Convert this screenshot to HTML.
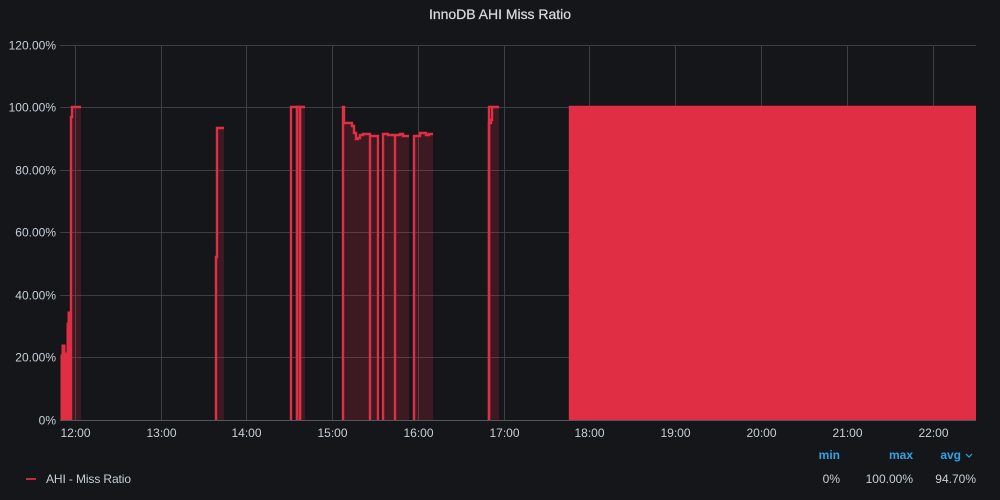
<!DOCTYPE html>
<html lang="en">
<head>
<meta charset="utf-8">
<title>InnoDB AHI Miss Ratio</title>
<style>
html,body{margin:0;padding:0;background:#141619;width:1000px;height:500px;overflow:hidden}
svg{display:block}
text{font-family:"Liberation Sans",sans-serif;font-size:12px;fill:#c7d0d9}
</style>
</head>
<body>
<svg id="chart" xmlns="http://www.w3.org/2000/svg" width="1000" height="500" viewBox="0 0 1000 500">
<rect x="0" y="0" width="1000" height="500" fill="#141619"/>
<text x="429" y="19" textLength="142" lengthAdjust="spacing" style="font-size:14px;fill:#d8d9da;stroke:#d8d9da;stroke-width:0.25">InnoDB AHI Miss Ratio</text>
<g id="grid"></g>
<g id="series"></g>
<g id="yaxis"></g>
<g id="xaxis"></g>
<g>
<rect x="26" y="478" width="10" height="2" fill="#c4283c"/>
<text x="46" y="483" textLength="85" lengthAdjust="spacing">AHI - Miss Ratio</text>
<text x="840" y="459" text-anchor="end" style="fill:#33a2e5;font-weight:bold">min</text>
<text x="913" y="459" text-anchor="end" style="fill:#33a2e5;font-weight:bold">max</text>
<text x="961" y="459" text-anchor="end" style="fill:#33a2e5;font-weight:bold">avg</text>
<path d="M966 454l3 3l3-3" fill="none" stroke="#33a2e5" stroke-width="1.2"/>
<text x="840" y="483" text-anchor="end">0%</text>
<text x="913" y="483" text-anchor="end">100.00%</text>
<text x="976" y="483" text-anchor="end">94.70%</text>
</g>
</svg>
<script>
// Tick values and labels
const yTickValues = [0, 20, 40, 60, 80, 100, 120];
const yTickLabels = ["0%", "20.00%", "40.00%", "60.00%", "80.00%", "100.00%", "120.00%"];
const xTickMinutes = [0, 60, 120, 180, 240, 300, 360, 420, 480, 540, 600];
const xTickLabels = ["12:00", "13:00", "14:00", "15:00", "16:00", "17:00", "18:00", "19:00", "20:00", "21:00", "22:00"];

// Series runs: minutes after 12:00 and miss ratio percent
const denseStartTimes = [-9.8, -9.0, -7.1, -6.0, -4.9, -3.2];
const denseStartValues = [20.8, 24, 21.5, 31, 34.5, 21];
const firstRunTimes = [-2.7, -2.1, 4];
const firstRunValues = [97, 100, 100];
const riseTimes = [98.2, 98.8, 104];
const riseValues = [52, 93.3, 93.3];
const boxATimes = [150.9, 154.9];
const boxAValues = [100, 0];
const boxBTimes = [155.1, 157];
const boxBValues = [100, 0];
const boxCTimes = [157.2, 160.7];
const boxCValues = [100, 100];
const plateauATimes = [187.6, 188.3, 193.6, 195, 196.4, 197.8, 199.1, 201, 206.1, 206.4, 211.8];
const plateauAValues = [100, 95, 94, 91.8, 89.9, 90.2, 91.2, 91.5, 0, 91, 0];
const plateauBTimes = [215.2, 219, 223.6, 223.8, 227, 229.2, 233.4];
const plateauBValues = [91.5, 91.3, 0, 91.2, 91.5, 91, 91];
const plateauCTimes = [236.6, 241.1, 245, 247.5, 250.2];
const plateauCValues = [91, 91.8, 91.2, 91.4, 91.4];
const capTimes = [289.4, 291.6];
const capValues = [100, 100];
const lateRunTimes = [289.7, 290.8, 291.6, 296.5];
const lateRunValues = [95, 96, 100, 100];
const blockTimes = [346.1, 630.1];
const blockValues = [100, 100];

const runs = [
  {t: denseStartTimes, v: denseStartValues, mode: "dense"},
  {t: firstRunTimes, v: firstRunValues, mode: "area"},
  {t: riseTimes, v: riseValues, mode: "area"},
  {t: boxATimes, v: boxAValues, mode: "line"},
  {t: boxBTimes, v: boxBValues, mode: "line"},
  {t: boxCTimes, v: boxCValues, mode: "area"},
  {t: plateauATimes, v: plateauAValues, mode: "area"},
  {t: plateauBTimes, v: plateauBValues, mode: "area"},
  {t: plateauCTimes, v: plateauCValues, mode: "area"},
  {t: capTimes, v: capValues, mode: "line"},
  {t: lateRunTimes, v: lateRunValues, mode: "area"},
  {t: blockTimes, v: blockValues, mode: "block"}
];

const NS = "http://www.w3.org/2000/svg";
const plot = {left: 60, right: 976, top: 45, bottom: 420};
function xScale(min) { return 75.3 + min * 85.77 / 60; }
function yScale(val) { return plot.bottom - val * 3.126; }
function snapX(min) { return Math.round(xScale(min)); }
function snapY(val) { return Math.round(yScale(val)); }
function make(tag, attrs, parent) {
  const el = document.createElementNS(NS, tag);
  for (const k in attrs) el.setAttribute(k, attrs[k]);
  parent.appendChild(el);
  return el;
}

const gridG = document.getElementById("grid");
const yG = document.getElementById("yaxis");
const xG = document.getElementById("xaxis");
const seriesG = document.getElementById("series");

yTickValues.forEach(function (val, i) {
  const py = Math.round(yScale(val)) + 0.5;
  const line = make("line", {x1: plot.left, x2: plot.right, y1: py, y2: py, stroke: val === 0 ? "#55575b" : "#3d3f43", "stroke-width": 1}, gridG);
  
  
  const label = make("text", {x: 56, y: py + 4, "text-anchor": "end"}, yG);
  label.textContent = yTickLabels[i];
  
  
});

xTickMinutes.forEach(function (min, i) {
  const px = Math.floor(xScale(min)) + 0.5;
  const line = make("line", {x1: px, x2: px, y1: plot.top, y2: plot.bottom, stroke: "#3d3f43", "stroke-width": 1}, gridG);
  
  
  const label = make("text", {x: px, y: 437, "text-anchor": "middle"}, xG);
  label.textContent = xTickLabels[i];
  
  
});

runs.forEach(function (run) {
  let d = "M" + snapX(run.t[0]) + " " + snapY(0);
  run.t.forEach(function (tm, i) {
    d += "H" + snapX(tm) + "V" + snapY(run.v[i]);
  });
  const lastX = snapX(run.t[run.t.length - 1]);
  if (run.mode !== "line") {
    const solid = run.mode === "dense" || run.mode === "block";
    const area = make("path", {d: d + "H" + lastX + "V" + snapY(0) + "Z", fill: "#e02f44", "fill-opacity": solid ? 1 : 0.2, stroke: "none"}, seriesG);
    
    
  }
  const stroke = make("path", {d: d, fill: "none", stroke: "#e02f44", "stroke-width": run.mode === "dense" ? 1 : 2.4, "stroke-linejoin": "miter"}, seriesG);
  
  
});
</script>
</body>
</html>
